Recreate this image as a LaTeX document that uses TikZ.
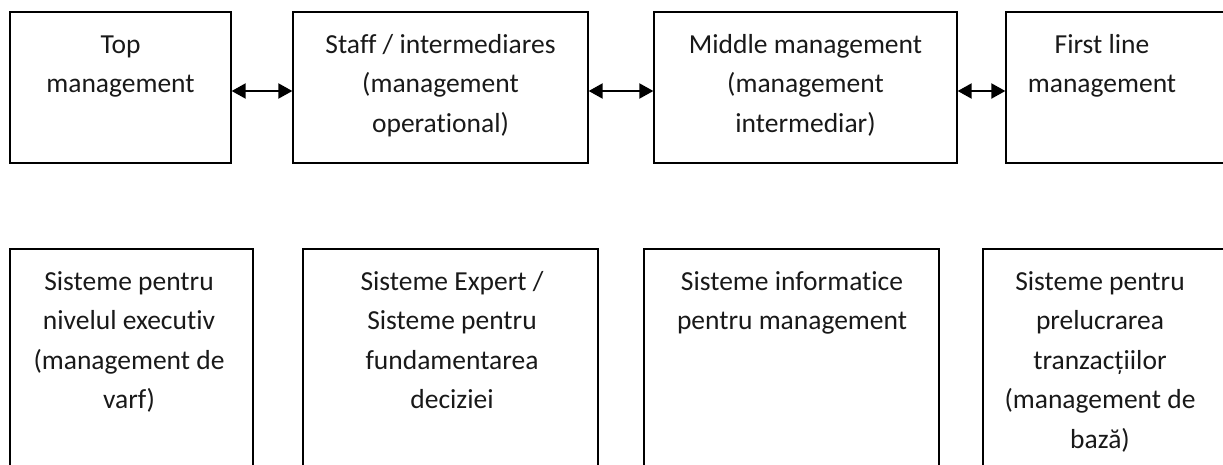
\documentclass[tikz,border=0pt]{standalone}
\usepackage{fontspec}
\setmainfont{Carlito}[Ligatures={NoCommon,NoRequired,NoContextual}]
\usetikzlibrary{arrows.meta,calc}
\newcommand\firstln{\rule{0pt}{24pt}}
\begin{document}
\begin{tikzpicture}[x=1pt,y=-1pt,
  box/.style={draw=black, line width=1.3pt, rectangle, inner sep=0pt},
  txt/.style={anchor=north, align=center, inner sep=0pt,
    font=\fontsize{27.5pt}{39.5pt}\selectfont, text=black!90},
  link/.style={line width=2pt,
    {Triangle[length=14pt,width=15pt]}-{Triangle[length=14pt,width=15pt]}}]
\useasboundingbox (0,0) rectangle (1223,464);
\fill[white] (0,0) rectangle (1223,464);
\clip (0,0) rectangle (1223,464);
% top row
\node[box, minimum width=221pt, minimum height=151pt] (b1) at (120.5,87.5) {};
\node[box, minimum width=295pt, minimum height=151pt] (b2) at (440.5,87.5) {};
\node[box, minimum width=303pt, minimum height=151pt] (b3) at (805.5,87.5) {};
\node[box, minimum width=234pt, minimum height=151pt] (b4) at (1123,87.5) {};
\node[txt] (tb1) at (120.5,29) {\firstln Top\\management};
\node[txt] (tb2) at (440.5,29) {\firstln Staff / intermediares\\(management\\operational)};
\node[txt] (tb3) at (805.5,29) {\firstln Middle management\\(management\\intermediar)};
\node[txt] (tb4) at (1102,29) {\firstln First line\\management};
\draw[link] ($(b1.east)+(0,3.5)$) -- ($(b2.west)+(0,3.5)$);
\draw[link] ($(b2.east)+(0,3.5)$) -- ($(b3.west)+(0,3.5)$);
\draw[link] ($(b3.east)+(0,3.5)$) -- ($(b4.west)+(0,3.5)$);
% bottom row
\node[box, minimum width=243pt, minimum height=231pt] (c1) at (131.5,364.5) {};
\node[box, minimum width=295pt, minimum height=231pt] (c2) at (450.5,364.5) {};
\node[box, minimum width=295pt, minimum height=231pt] (c3) at (791.5,364.5) {};
\node[box, minimum width=257pt, minimum height=231pt] (c4) at (1111.5,364.5) {};
\node[txt] (tc1) at (129,266) {\firstln Sisteme pentru\\nivelul executiv\\(management de\\varf)};
\node[txt] (tc2) at (452,266) {\firstln Sisteme Expert /\\Sisteme pentru\\fundamentarea\\deciziei};
\node[txt] (tc3) at (792,266) {\firstln Sisteme informatice\\pentru management};
\node[txt] (tc4) at (1100,266) {\firstln Sisteme pentru\\prelucrarea\\tranzacțiilor\\(management de\\bază)};
\end{tikzpicture}
\end{document}
